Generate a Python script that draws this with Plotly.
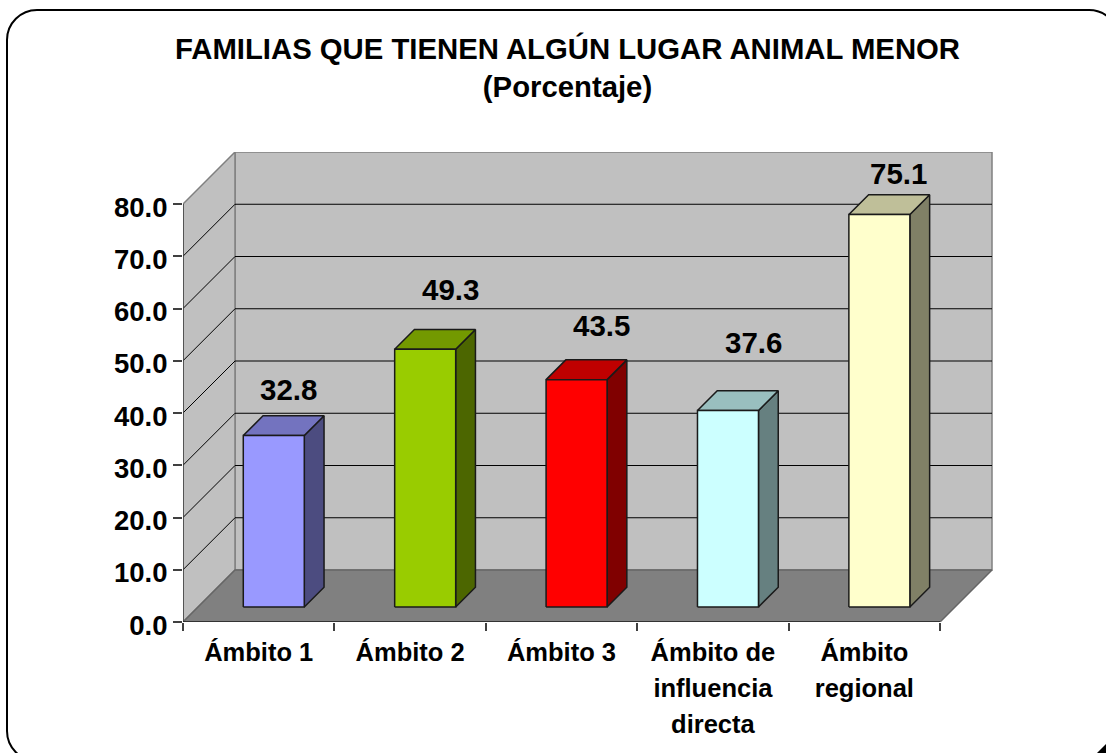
import plotly.graph_objects as go

categories = ["Ámbito 1", "Ámbito 2", "Ámbito 3", "Ámbito de<br>influencia<br>directa", "Ámbito<br>regional"]
values = [32.8, 49.3, 43.5, 37.6, 75.1]
front_colors = ["#9999FF", "#99CC00", "#FF0000", "#CCFFFF", "#FFFFCC"]
value_ticks = [0, 10, 20, 30, 40, 50, 60, 70, 80]
label_nudge_x_px = [5, 15, 15, 16, 9]
label_nudge_y_px = [9, 23, 17, 31, 4]

TITLE = "FAMILIAS QUE TIENEN ALGÚN LUGAR ANIMAL MENOR<br>(Porcentaje)"
FONT = "Liberation Sans, Arial, sans-serif"

# scale: pixels per data unit
W, H = 1106, 753
L, R, T, B = 183, 993, 152, 622
PX_CAT = 151.4
PX_VAL = 5.225
DEPTH_PX = 52
n = len(categories)
y_max = (B - T) / PX_VAL
x_max = (R - L) / PX_CAT
DX = DEPTH_PX / PX_CAT
DY = DEPTH_PX / PX_VAL
top_val = value_ticks[-1]

# bar geometry as fractions of the depth and category band
bar_w = 61 / PX_CAT
bar_depth = 0.38
bar_start = 0.29


def shade(hex_color, k):
    r, g, b = (int(hex_color[i:i + 2], 16) for i in (1, 3, 5))
    return f"rgb({round(r * k)},{round(g * k)},{round(b * k)})"


fig = go.Figure()


def poly(xs, ys, fill, line, width=1):
    fig.add_trace(go.Scatter(
        x=xs + xs[:1], y=ys + ys[:1], mode="lines", fill="toself", fillcolor=fill,
        line=dict(color=line, width=width), hoverinfo="skip", showlegend=False, cliponaxis=False))


def seg(xs, ys, color, width=1):
    fig.add_trace(go.Scatter(
        x=xs, y=ys, mode="lines", line=dict(color=color, width=width),
        hoverinfo="skip", showlegend=False, cliponaxis=False))


WALL, EDGE, FLOOR = "#C0C0C0", "#808080", "#808080"
# back wall, side wall, floor
poly([DX, n + DX, n + DX, DX], [DY, DY, top_val + DY, top_val + DY], WALL, EDGE, 1.5)
poly([0, DX, DX, 0], [0, DY, top_val + DY, top_val], WALL, EDGE, 1.5)
poly([0, n, n + DX, DX], [0, 0, DY, DY], FLOOR, "#666666", 1.5)

# gridlines on side and back wall
for v in value_ticks[1:-1]:
    seg([0, DX, n + DX], [v, v + DY, v + DY], "#000000", 1)

# axis lines
seg([0, 0], [0, top_val], "#404040", 1.5)
seg([0, n], [0, 0], "#202020", 1.5)

# bars
for i, (v, c) in enumerate(zip(values, front_colors)):
    x0 = i + 0.5 + bar_start * DX - bar_w / 2
    x1 = x0 + bar_w
    y0 = bar_start * DY
    y1 = y0 + v
    dx, dy = bar_depth * DX, bar_depth * DY
    outline = "#1a1a1a"
    poly([x1, x1 + dx, x1 + dx, x1], [y0, y0 + dy, y1 + dy, y1], shade(c, 0.5), outline, 1.5)
    poly([x0, x1, x1 + dx, x0 + dx], [y1, y1, y1 + dy, y1 + dy], shade(c, 0.75), outline, 1.5)
    poly([x0, x1, x1, x0], [y0, y0, y1, y1], c, outline, 1.5)

# data labels
for i, v in enumerate(values):
    fig.add_annotation(
        x=i + 0.5 + bar_start * DX + bar_depth * DX / 2,
        y=bar_start * DY + v + bar_depth * DY,
        text=f"{v:.1f}", showarrow=False, xanchor="center", yanchor="bottom",
        xshift=label_nudge_x_px[i], yshift=label_nudge_y_px[i] - 1,
        font=dict(family=FONT, size=29.5, color="#000000", weight="bold"))

SPAN = '<span style="font-size:25.5px">'
tick_text = [SPAN + c.replace("<br>", "</span><br>" + SPAN) + "</span>" for c in categories]

fig.update_layout(
    width=W, height=H, autosize=False,
    margin=dict(l=L, r=W - R, t=T, b=H - B, pad=0),
    paper_bgcolor="#FFFFFF", plot_bgcolor="rgba(0,0,0,0)",
    showlegend=False,
    title=dict(text=f"<b>{TITLE}</b>", x=567.5 / W, xanchor="center", xref="container",
               y=1 - 59 / H, yanchor="top",
               font=dict(family=FONT, size=29.3, color="#000000")),
    font=dict(family=FONT, color="#000000"),
    xaxis=dict(
        range=[0, x_max], showgrid=False, zeroline=False, showline=False,
        tickmode="array", tickvals=[i + 0.5 for i in range(n)], ticktext=tick_text,
        ticks="", ticklen=0, tickangle=0, ticklabelstandoff=10,
        tickfont=dict(family=FONT, size=27.7, color="#000000", weight="bold"),
        minor=dict(tickmode="array", tickvals=list(range(n + 1)), ticks="outside",
                   ticklen=8, tickwidth=1.5, tickcolor="#404040", showgrid=False),
    ),
    yaxis=dict(
        range=[0, y_max], showgrid=False, zeroline=False, showline=False,
        tickmode="array", tickvals=value_ticks, ticktext=[f"{v:.1f}" for v in value_ticks],
        ticks="outside", ticklen=9, tickwidth=1.5, tickcolor="#404040", ticklabelshift=3,
        tickfont=dict(family=FONT, size=27.5, color="#000000", weight="bold"),
    ),
)

# rounded chart frame, in pixels of the page
fx = lambda p: (p - L) / (R - L)
fy = lambda p: (B - p) / (B - T)
x0, x1, y0, y1, r = 7, 1119, 10, 761, 30
k = r * 0.45
path = (f"M {fx(x0)} {fy(y1 - r)} L {fx(x0)} {fy(y0 + r)} "
        f"C {fx(x0)} {fy(y0 + k)} {fx(x0 + k)} {fy(y0)} {fx(x0 + r)} {fy(y0)} "
        f"L {fx(x1 - r)} {fy(y0)} "
        f"C {fx(x1 - k)} {fy(y0)} {fx(x1)} {fy(y0 + k)} {fx(x1)} {fy(y0 + r)} "
        f"L {fx(x1)} {fy(y1 - r)} "
        f"C {fx(x1)} {fy(y1 - k)} {fx(x1 - k)} {fy(y1)} {fx(x1 - r)} {fy(y1)} "
        f"L {fx(x0 + r)} {fy(y1)} "
        f"C {fx(x0 + k)} {fy(y1)} {fx(x0)} {fy(y1 - k)} {fx(x0)} {fy(y1 - r)} Z")
fig.add_shape(type="path", xref="paper", yref="paper", path=path,
              line=dict(color="#000000", width=2), fillcolor="rgba(0,0,0,0)", layer="below")
# dark wedge of the frame's shadow in the lower right corner
wedge = (f"M {fx(1097)} {fy(753)} L {fx(1106)} {fy(744)} L {fx(1106)} {fy(753)} Z")
fig.add_shape(type="path", xref="paper", yref="paper", path=wedge,
              line=dict(color="#000000", width=0), fillcolor="#000000", layer="below")

fig.write_html("out.html", config={"displayModeBar": False},
               post_script="document.body.style.margin='0';document.body.style.overflow='hidden';")
